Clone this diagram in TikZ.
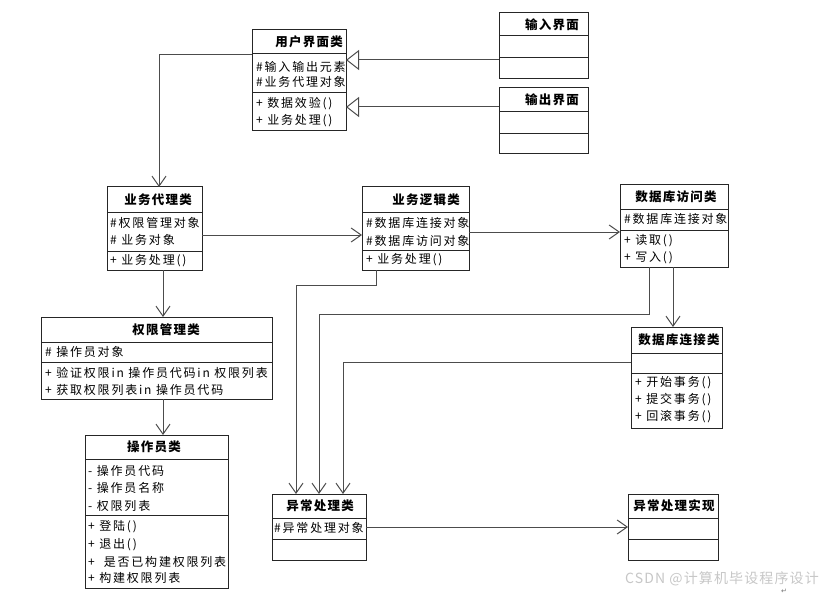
\documentclass[tikz,border=0pt]{standalone}
\usepackage{fontspec}
\setmainfont{Noto Sans CJK SC}
\newfontfamily\rowfont[LetterSpace=15]{Noto Sans CJK SC}
\newfontfamily\titlefont[LetterSpace=10]{Noto Sans CJK SC}
\newfontfamily\wmfont[LetterSpace=8]{Noto Sans CJK SC}
\newfontfamily\symfont{DejaVu Sans}
\usetikzlibrary{arrows.meta}
\tikzset{
  classbox/.style={draw=black!85, line width=1pt, inner sep=0pt, outer sep=0pt, fill=white},
  sepline/.style={draw=black!85, line width=1pt},
  titletext/.style={font=\titlefont\fontsize{12.5}{14}\selectfont\bfseries, inner sep=0pt},
  rowtext/.style={font=\rowfont\fontsize{12}{14}\selectfont, inner sep=0pt, anchor=west},
  conn/.style={draw=black!70, line width=1pt},
  dep/.style={conn, -{Straight Barb[length=10pt,width=14pt]}},
  gen/.style={conn, -{Triangle[open, length=13pt, width=20pt, fill=white]}},
}
\newcommand{\umlcls}[9]{%
  \pgfmathsetmacro\bw{#4-#2}%
  \pgfmathsetmacro\bh{#5-#3}%
  \node[classbox, minimum width=\bw pt, minimum height=\bh pt, anchor=north west] (#1) at (#2,#3) {};
  \draw[sepline] (#2,#6) -- (#4,#6);
  \draw[sepline] (#2,#7) -- (#4,#7);
  \node[titletext] (#1-t) at (#9,{(#3+#6)/2}) {#8};
}
\begin{document}
\begin{tikzpicture}[x=1pt,y=-1pt]
\fill[white] (0,0) rectangle (832,596);
\useasboundingbox (0,0) rectangle (832,596);

% classes
\umlcls{ui}{252}{30}{346}{131}{54}{93}{用户界面类}{309}
\umlcls{in}{499}{13}{588}{79}{36}{58}{输入界面}{552}
\umlcls{out}{499}{88}{588}{154}{112}{134}{输出界面}{552}
\umlcls{agent}{107}{187}{202}{270}{212}{251}{业务代理类}{158}
\umlcls{logic}{362}{187}{469}{270}{212}{250}{业务逻辑类}{426}
\umlcls{dba}{620}{185}{728}{267}{209}{230}{数据库访问类}{676}
\umlcls{perm}{41}{317}{272}{399}{342}{362}{权限管理类}{166}
\umlcls{op}{85}{435}{228}{588}{459}{515}{操作员类}{154}
\umlcls{dbc}{631}{327}{722}{428}{353}{373}{数据库连接类}{679}
\umlcls{exc}{272}{494}{366}{560}{518}{539}{异常处理类}{320}
\umlcls{impl}{628}{494}{718}{560}{518}{539}{异常处理实现}{674}

% rows
\node[rowtext] (ui-a1) at (256,67) {\#输入输出元素};
\node[rowtext] (ui-a2) at (256,82) {\#业务代理对象};
\node[rowtext] (ui-m1) at (256,104) {+ 数据效验()};
\node[rowtext] (ui-m2) at (256,121) {+ 业务处理()};

\node[rowtext] (agent-a1) at (110,223) {\#权限管理对象};
\node[rowtext] (agent-a2) at (110,240) {\# 业务对象};
\node[rowtext] (agent-m1) at (110,261) {+ 业务处理()};

\node[rowtext] (logic-a1) at (366,223) {\#数据库连接对象};
\node[rowtext] (logic-a2) at (366,241) {\#数据库访问对象};
\node[rowtext] (logic-m1) at (366,260) {+ 业务处理()};

\node[rowtext] (dba-a1) at (624,219) {\#数据库连接对象};
\node[rowtext] (dba-m1) at (624,241) {+ 读取()};
\node[rowtext] (dba-m2) at (624,258) {+ 写入()};

\node[rowtext] (perm-a1) at (45,352) {\# 操作员对象};
\node[rowtext] (perm-m1) at (45,373) {+ 验证权限in 操作员代码in 权限列表};
\node[rowtext] (perm-m2) at (45,390) {+ 获取权限列表in 操作员代码};

\node[rowtext] (op-a1) at (88,471) {- 操作员代码};
\node[rowtext] (op-a2) at (88,488) {- 操作员名称};
\node[rowtext] (op-a3) at (88,506) {- 权限列表};
\node[rowtext] (op-m1) at (88,527) {+ 登陆()};
\node[rowtext] (op-m2) at (88,545) {+ 退出()};
\node[rowtext] (op-m3) at (88,562) {+ \ 是否已构建权限列表};
\node[rowtext] (op-m4) at (88,578) {+ 构建权限列表};

\node[rowtext] (dbc-m1) at (635,383) {+ 开始事务()};
\node[rowtext] (dbc-m2) at (635,400) {+ 提交事务()};
\node[rowtext] (dbc-m3) at (635,417) {+ 回滚事务()};

\node[rowtext] (exc-a1) at (274,528) {\#异常处理对象};

% connectors
\draw[gen] (in.west |- 0,60) -- (ui.east |- 0,60);
\draw[gen] (out.west |- 0,107) -- (ui.east |- 0,107);
\draw[dep] (ui.west |- 0,55) -| (159,0 |- agent.north);
\draw[dep] (agent.east |- 0,235) -- (logic.west |- 0,235);
\draw[dep] (logic.east |- 0,232) -- (dba.west |- 0,232);
\draw[dep] (agent.south -| 163,0) -- (perm.north -| 163,0);
\draw[dep] (perm.south -| 163,0) -- (op.north -| 163,0);
\draw[dep] (dba.south -| 673,0) -- (dbc.north -| 673,0);
\draw[dep] (logic.south -| 376,0) -- (376,285) -- (296,285) -- (exc.north -| 296,0);
\draw[dep] (dba.south -| 649,0) -- (649,314) -- (319,314) -- (exc.north -| 319,0);
\draw[dep] (dbc.west |- 0,362) -| (exc.north -| 343,0);
\draw[dep] (exc.east |- 0,527) -- (impl.west |- 0,527);

% watermark
\node[font=\wmfont\fontsize{14}{16}\selectfont, text=black!22, anchor=west, inner sep=0pt] (wm) at (625,579) {CSDN @计算机毕设程序设计};
\node[font=\symfont\fontsize{7}{8}\selectfont, text=black!55, inner sep=0pt] (pm) at (784,591) {↵};
\end{tikzpicture}
\end{document}
